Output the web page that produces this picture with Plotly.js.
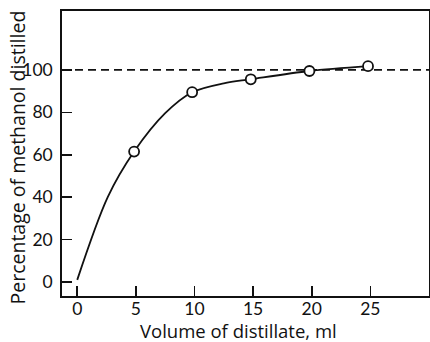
<!DOCTYPE html>
<html>
<head>
<meta charset="utf-8">
<script src="https://cdn.plot.ly/plotly-3.0.1.min.js"></script>
<style>html,body{margin:0;padding:0;background:#fff;}#chart{width:430px;height:342px;}</style>
</head>
<body>
<div id="chart"></div>
<script>
const volume = [4.85, 9.8, 14.8, 19.8, 24.8];
const percent = [61.5, 89.5, 95.6, 99.5, 101.8];
// Smooth curve
const curveVolume = [0, 2.6, 4.85, 7.5, 9.8, 12.5, 14.8, 19.8, 24.8];
const curvePercent = [1, 40, 61.5, 79.6, 89.5, 93.7, 95.6, 99.5, 101.8];
// Reference level
const fullLevel = 100;
const xTicks = [0, 5, 10, 15, 20, 25];
const yTicks = [0, 20, 40, 60, 80, 100];
const xTitle = 'Volume of distillate, ml';
const yTitle = 'Percentage of methanol distilled';

const fam = 'Lato, "Open Sans", sans-serif';
const titleFam = '"Open Sans", Lato, sans-serif';
const tickFont = {family: fam, color: '#111', size: 17.5};
const xTitleFont = {family: titleFam, color: '#111', size: 18.5};
const yTitleFont = {family: titleFam, color: '#111', size: 19.5};

const traces = [
  {x: curveVolume, y: curvePercent, mode: 'lines', line: {color: '#111', width: 1.8, shape: 'spline', smoothing: 0.9}, hoverinfo: 'skip'},
  {x: volume, y: percent, mode: 'markers', marker: {symbol: 'circle', size: 10, color: '#fff', line: {color: '#111', width: 1.8}}}
];

const layout = {
  width: 430, height: 342,
  margin: {l: 62, r: 1, t: 11, b: 46},
  paper_bgcolor: '#fff', plot_bgcolor: '#fff',
  showlegend: false,
  font: tickFont,
  xaxis: {
    range: [-1.3, 30], tickvals: xTicks, ticktext: xTicks.map(String),
    ticks: 'inside', ticklen: 10, tickwidth: 1.5, tickcolor: '#111',
    showline: true, linecolor: '#111', linewidth: 1.8, mirror: true,
    showgrid: false, zeroline: false,
    tickfont: tickFont, ticklabelstandoff: -4
  },
  yaxis: {
    range: [-6.6, 127.8], tickvals: yTicks, ticktext: yTicks.map(String),
    ticks: 'inside', ticklen: 10, tickwidth: 1.5, tickcolor: '#111',
    showline: true, linecolor: '#111', linewidth: 1.8, mirror: true,
    showgrid: false, zeroline: false,
    tickfont: tickFont, ticklabelstandoff: 4
  },
  annotations: [
    {text: xTitle, xref: 'paper', yref: 'paper', x: 0.48, y: 0, yshift: -34, xanchor: 'center', yanchor: 'middle', borderpad: 0, showarrow: false, font: xTitleFont},
    {text: yTitle, xref: 'paper', yref: 'paper', x: 0, y: 0.486, xshift: -45, xanchor: 'center', yanchor: 'middle', borderpad: 0, textangle: -90, showarrow: false, font: yTitleFont}
  ],
  shapes: [
    {type: 'line', xref: 'paper', x0: 0, x1: 1, yref: 'y', y0: fullLevel, y1: fullLevel,
     line: {color: '#111', width: 1.8, dash: '8px,5px'}, layer: 'below'}
  ]
};

Plotly.newPlot('chart', traces, layout, {displayModeBar: false, staticPlot: true});
</script>
</body>
</html>
